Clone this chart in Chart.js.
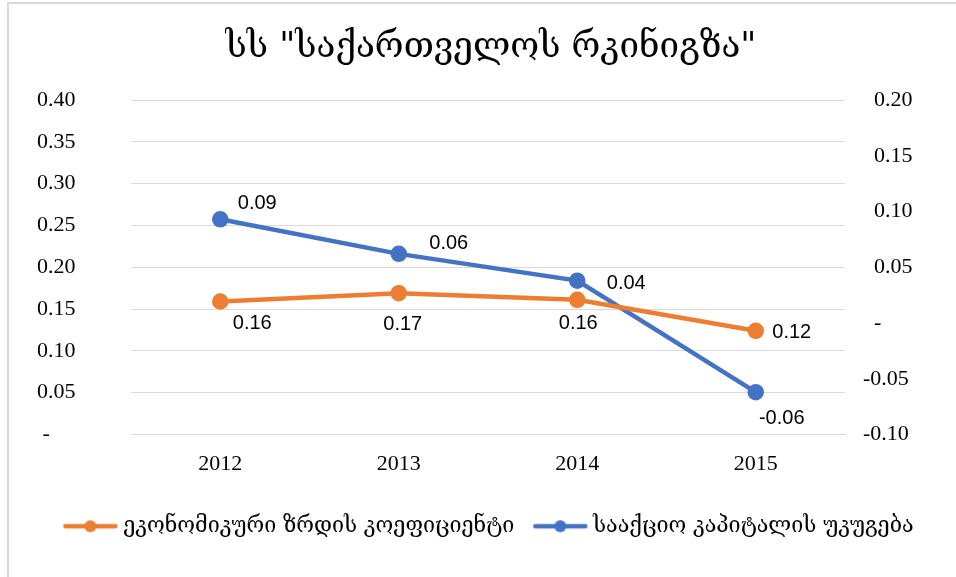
<!DOCTYPE html>
<html>
<head>
<meta charset="utf-8">
<script src="https://cdn.jsdelivr.net/npm/chart.js@4/dist/chart.umd.min.js"></script>
<style>
  html, body { margin: 0; padding: 0; background: #fff; overflow: hidden; }
  #frame { position: absolute; left: 7px; top: 2px; width: 1200px; height: 900px; border: 2px solid #d9d9d9; }
  #wrap { position: absolute; left: 0; top: 0; width: 956px; height: 577px; }
</style>
</head>
<body>
<div id="frame"></div>
<div id="wrap"><canvas id="myChart" width="956" height="577"></canvas></div>
<script>
// data
const years = ['2012', '2013', '2014', '2015'];
const growthRate = [0.159, 0.169, 0.161, 0.124];     // left axis
const equityReturn = [0.093, 0.062, 0.038, -0.062];  // right axis
const seriesNames = ['ეკონომიკური ზრდის კოეფიციენტი', 'სააქციო კაპიტალის უკუგება'];
const titleText = 'სს "საქართველოს რკინიგზა"';

const orange = '#ED7D31';
const blue = '#4472C4';
const georgianFont = "'DejaVu Serif', serif";

// label offsets (px) from each point, like in the excel original
const labelOffsets = [
    [[32, 22], [4, 31], [1, 24], [36, 2]],
    [[37, -16], [50, -10], [49, 3], [26, 26]]
];

// small line + circle icon for the legend
function legendIcon(color) {
    const c = document.createElement('canvas');
    c.width = 56; c.height = 14;
    const g = c.getContext('2d');
    g.strokeStyle = color;
    g.lineWidth = 4.5;
    g.lineCap = 'round';
    g.beginPath(); g.moveTo(3, 7); g.lineTo(53, 7); g.stroke();
    g.fillStyle = color;
    g.beginPath(); g.arc(28, 7, 6, 0, Math.PI * 2); g.fill();
    return c;
}

const dataLabels = {
    id: 'dataLabels',
    afterDatasetsDraw(chart) {
        const ctx = chart.ctx;
        ctx.save();
        ctx.font = "20px 'Liberation Sans', Arial, sans-serif";
        ctx.fillStyle = '#000';
        ctx.textAlign = 'center';
        ctx.textBaseline = 'middle';
        chart.data.datasets.forEach((ds, i) => {
            chart.getDatasetMeta(i).data.forEach((pt, j) => {
                const off = labelOffsets[i][j];
                ctx.fillText(ds.data[j].toFixed(2), pt.x + off[0], pt.y + off[1]);
            });
        });
        ctx.restore();
    }
};

function dashZero(v, prefix) {
    if (Math.abs(v) < 1e-9) return prefix + '-';
    return (v > 0 ? prefix : '') + v.toFixed(2);
}

const ctx = document.getElementById('myChart').getContext('2d');
const myChart = new Chart(ctx, {
    type: 'line',
    data: {
        labels: years,
        datasets: [{
            label: seriesNames[0],
            data: growthRate,
            yAxisID: 'y',
            borderColor: orange,
            backgroundColor: orange,
            borderWidth: 4.5,
            pointRadius: 6,
            pointHoverRadius: 6,
            fill: false
        }, {
            label: seriesNames[1],
            data: equityReturn,
            yAxisID: 'y1',
            borderColor: blue,
            backgroundColor: blue,
            borderWidth: 4.5,
            pointRadius: 6,
            pointHoverRadius: 6,
            fill: false
        }]
    },
    options: {
        responsive: false,
        animation: false,
        layout: { padding: { left: 37, right: 11, top: 0, bottom: 30 } },
        plugins: {
            title: {
                display: true,
                text: titleText,
                color: '#000',
                font: { family: georgianFont, size: 35, weight: 'normal', lineHeight: 1.2 },
                padding: { top: 27, bottom: 31 }
            },
            legend: {
                position: 'bottom',
                labels: {
                    color: '#000',
                    font: { family: georgianFont, size: 21.5 },
                    usePointStyle: true,
                    pointStyleWidth: 44,
                    padding: 24,
                    generateLabels(chart) {
                        return chart.data.datasets.map((ds, i) => ({
                            text: ds.label,
                            pointStyle: legendIcon(ds.borderColor),
                            fillStyle: ds.borderColor,
                            strokeStyle: ds.borderColor,
                            lineWidth: 0,
                            datasetIndex: i,
                            hidden: false
                        }));
                    }
                }
            },
            tooltip: { enabled: false }
        },
        scales: {
            x: {
                offset: true,
                grid: { display: false, offset: true },
                border: { color: '#d9d9d9', width: 1 },
                ticks: {
                    color: '#000',
                    padding: 9,
                    font: { family: "'Liberation Serif', 'Times New Roman', serif", size: 22 }
                },
                afterFit(scale) { scale.height = 57; }
            },
            y: {
                position: 'left',
                min: 0,
                max: 0.4,
                grid: { color: '#d9d9d9', lineWidth: 1, drawTicks: false },
                border: { display: false },
                ticks: {
                    stepSize: 0.05,
                    color: '#000',
                    crossAlign: 'far',
                    font: { family: "'Liberation Serif', 'Times New Roman', serif", size: 22 },
                    callback: (v) => dashZero(v, Math.abs(v) < 1e-9 ? ' ' : '')
                },
                afterFit(scale) { scale.width = 94; }
            },
            y1: {
                position: 'right',
                min: -0.1,
                max: 0.2,
                grid: { drawOnChartArea: false, drawTicks: false },
                border: { display: false },
                ticks: {
                    stepSize: 0.05,
                    color: '#000',
                    padding: 18,
                    crossAlign: 'near',
                    font: { family: "'Liberation Serif', 'Times New Roman', serif", size: 22 },
                    callback: (v) => dashZero(v, '  ')
                },
                afterFit(scale) { scale.width = 100; }
            }
        }
    },
    plugins: [dataLabels]
});
</script>
</body>
</html>
